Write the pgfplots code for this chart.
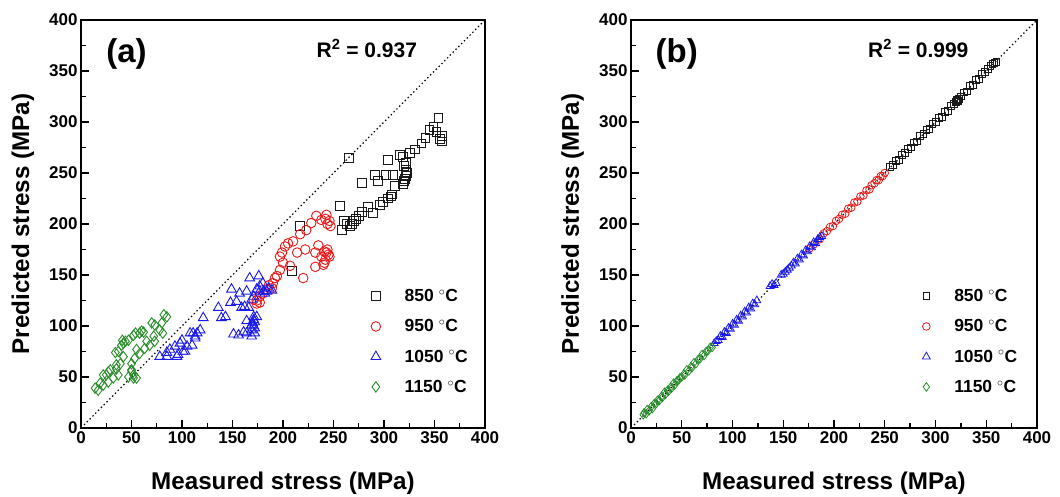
\documentclass[border=0pt]{standalone}
\usepackage{fontspec}
\setmainfont{Liberation Sans}
\usepackage{pgfplots}
\pgfplotsset{compat=1.18}
\definecolor{cBlack}{RGB}{25,25,25}
\definecolor{cRed}{RGB}{235,25,25}
\definecolor{cBlue}{RGB}{25,25,235}
\definecolor{cGreen}{RGB}{40,140,40}

\newcommand{\gap}{\rule{22pt}{0pt}}

\pgfplotsset{
  stressax/.style={
    scale only axis, width=404pt, height=408pt,
    xmin=0, xmax=400, ymin=0, ymax=400,
    xtick={0,50,...,400}, ytick={0,50,...,400},
    minor tick num=1,
    tick align=inside, tick pos=left,
    major tick length=8pt, minor tick length=4.5pt,
    axis line style={line width=1.6pt},
    tick style={line width=1.4pt, black},
    tick label style={font=\fontsize{17}{17}\selectfont\bfseries},
    /pgf/number format/assume math mode=true,
    xlabel={Measured stress (MPa)}, ylabel={Predicted stress (MPa)},
    label style={font=\fontsize{24.2}{24.2}\selectfont\bfseries},
    xlabel style={at={(axis description cs:0.5,-0.135)}, anchor=center},
    ylabel style={at={(axis description cs:-0.144,0.5)}, anchor=center},
    legend style={draw=none, fill=none, at={(axis description cs:0.71,0.35)},
      anchor=north west, row sep=12.5pt, font=\fontsize{17.5}{17.5}\selectfont\bfseries},
    legend cell align=left,
  },
  diag/.style={forget plot, black, line width=1.2pt, dash pattern=on 1.4pt off 2.6pt},
}

\begin{document}
\begin{tikzpicture}
\useasboundingbox (-81pt,-69pt) rectangle (979pt,428pt);

% ---------- (a) ----------
\begin{axis}[stressax, at={(0pt,0pt)}, anchor=south west]
\addplot[diag] coordinates {(3,3) (400,400)};
\addplot[only marks, mark=square, mark size=4.4pt, cBlack, line width=0.9pt] coordinates {
(265,265)(354,304)(349,295)(345,292)(352,290)(357,281)(357,286)(341,284)(337,279)(331,273)
(326,270)(316,268)(304,263)(322,260)(320,257)(319,266)(322,253)(322,247)(320,242)(319,239)
(309,248)(302,248)(291,248)(294,242)(278,240)(311,237)(307,227)(304,225)(299,222)(296,219)
(289,211)(284,217)(278,212)(275,208)(270,203)(266,198)(260,203)(258,194)(256,218)(263,200)
(217,198)(209,154)(323,250)(321,244)(308,229)(268,200)(272,205)(355,283)};
\addlegendentry{\gap 850 $^{\circ}$C}
\addplot[only marks, mark=o, mark size=4.8pt, cRed, line width=0.9pt] coordinates {
(243,209)(238,204)(246,203)(247,198)(233,208)(228,201)(223,194)(217,190)(210,183)(202,178)
(199,172)(214,172)(222,175)(232,172)(238,168)(241,173)(244,175)(246,168)(241,162)(232,158)
(220,147)(200,162)(197,168)(197,155)(194,149)(190,142)(184,136)(177,129)(171,126)(177,123)
(174,125)(207,159)(235,179)(243,172)(245,170)(242,165)(240,160)(242,205)(244,200)(189,137)
(192,147)(180,132)(186,140)(174,122)(205,181)};
\addlegendentry{\gap 950 $^{\circ}$C}
\addplot[only marks, mark=triangle, mark size=5.6pt, cBlue, line width=0.9pt] coordinates {
(78,70)(85,74)(88,77)(95,70)(93,80)(98,83)(103,75)(108,93)(113,90)(118,96)
(121,108)(115,93)(105,80)(136,118)(139,108)(151,92)(149,136)(148,123)(154,124)(159,118)
(164,105)(166,118)(169,126)(171,109)(171,100)(172,93)(167,147)(176,149)(177,139)(181,134)
(184,134)(174,136)(171,129)(157,132)(164,93)(169,90)(85,70)(96,72)(101,75)(110,81)
(113,88)(100,86)(111,93)(143,109)(162,119)(156,91)(161,94)(169,96)(172,104)(174,109)
(169,101)(180,142)(189,135)(182,132)(177,134)(164,134)(170,103)(172,98)(171,106)(186,137)};
\addlegendentry{\gap 1050 $^{\circ}$C}
\addplot[only marks, mark=diamond, mark size=5.2pt, cGreen, line width=0.9pt] coordinates {
(14,39)(17,37)(19,44)(22,42)(27,45)(32,49)(37,52)(35,58)(39,63)(42,70)
(40,81)(44,85)(47,86)(37,75)(52,91)(58,93)(62,94)(73,101)(80,103)(85,109)
(81,93)(73,85)(68,81)(63,78)(58,73)(53,68)(50,63)(50,57)(52,52)(55,49)
(47,50)(27,55)(22,52)(34,74)(35,62)(29,57)(25,52)(65,85)(55,77)(60,95)
(54,93)(72,90)(78,96)(82,111)(70,103)(52,49)(50,56)(42,83)(41,86)};
\addlegendentry{\gap 1150 $^{\circ}$C}
\node[font=\fontsize{33}{33}\selectfont\bfseries] at (axis cs:45,367) {(a)};
\node[font=\fontsize{21}{21}\selectfont\bfseries] at (axis cs:283,372) {R\textsuperscript{2} = 0.937};
\end{axis}

% ---------- (b) ----------
\begin{axis}[stressax, width=406pt, at={(550pt,0pt)}, anchor=south west]
\addplot[diag] coordinates {(3,3) (400,400)};
\addplot[only marks, mark=square, mark size=3.4pt, cBlack, line width=0.8pt] coordinates {
(255,256)(258,258)(261,262)(264,263)(267,268)(270,270)(273,274)(276,275)(279,280)(282,281)
(285,286)(288,288)(291,292)(294,293)(297,298)(300,300)(303,304)(306,305)(309,310)(312,311)
(315,316)(318,318)(320,320)(321,322)(322,321)(323,323)(325,325)(328,329)(331,330)(334,335)
(337,336)(340,341)(343,342)(346,347)(349,349)(352,352)(354,355)(356,357)(358,358)(360,359)};
\addlegendentry{\gap 850 $^{\circ}$C}
\addplot[only marks, mark=o, mark size=3.8pt, cRed, line width=0.8pt] coordinates {
(176,176)(180,180)(186,185)(190,191)(193,193)(196,197)(199,198)(202,203)(205,205)(208,209)
(211,210)(214,215)(217,216)(220,221)(223,222)(226,227)(229,228)(232,233)(235,234)(237,238)
(240,240)(242,243)(244,243)(246,247)(248,247)(250,250)};
\addlegendentry{\gap 950 $^{\circ}$C}
\addplot[only marks, mark=triangle, mark size=4.5pt, cBlue, line width=0.8pt] coordinates {
(82,83)(84,85)(86,86)(88,90)(90,89)(92,94)(94,93)(96,98)(98,97)(100,102)
(102,101)(104,106)(106,105)(108,110)(110,109)(112,114)(114,113)(116,118)(118,117)(120,122)
(122,121)(124,125)(137,139)(139,141)(141,140)(143,142)(148,150)(150,151)(152,153)(154,155)
(156,157)(158,159)(160,162)(162,161)(164,166)(166,165)(168,170)(170,169)(172,174)(174,173)
(176,178)(178,177)(180,182)(182,181)(184,185)(186,187)(188,188)};
\addlegendentry{\gap 1050 $^{\circ}$C}
\addplot[only marks, mark=diamond, mark size=4.3pt, cGreen, line width=0.8pt] coordinates {
(12,13)(13,15)(15,14)(16,18)(18,17)(20,21)(21,19)(23,24)(25,24)(26,27)
(28,27)(30,31)(31,30)(33,35)(34,33)(36,37)(37,36)(39,40)(40,39)(42,44)
(43,42)(45,46)(47,47)(48,49)(50,50)(52,53)(53,52)(55,57)(57,56)(59,60)
(60,59)(62,64)(64,63)(66,67)(68,68)(70,72)(72,71)(74,75)(76,76)(78,79)(80,79)};
\addlegendentry{\gap 1150 $^{\circ}$C}
\node[font=\fontsize{33}{33}\selectfont\bfseries] at (axis cs:45,367) {(b)};
\node[font=\fontsize{21}{21}\selectfont\bfseries] at (axis cs:283,372) {R\textsuperscript{2} = 0.999};
\end{axis}
\end{tikzpicture}
\end{document}
